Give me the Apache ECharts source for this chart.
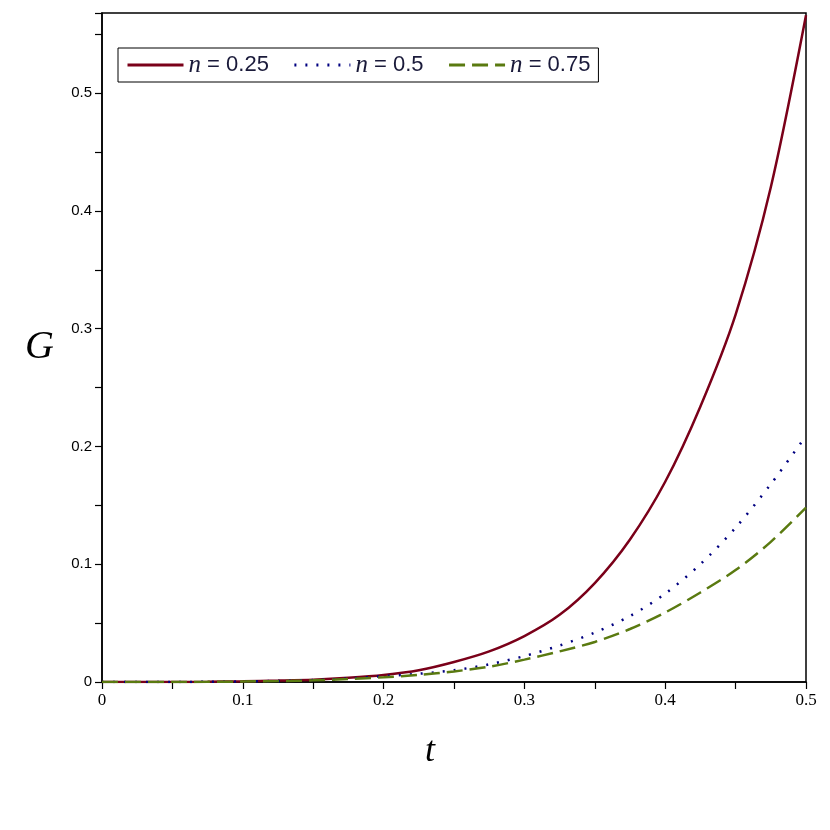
<!DOCTYPE html>
<html><head><meta charset="utf-8">
<script src="https://cdn.jsdelivr.net/npm/echarts@6/dist/echarts.min.js"></script>
<style>html,body{margin:0;padding:0;background:#fff}#c{width:830px;height:830px}</style>
</head><body><div id="c"></div>
<script>
const tValues = [0, 0.025, 0.05, 0.075, 0.1, 0.125, 0.15, 0.175, 0.2, 0.225, 0.25, 0.275, 0.3, 0.325, 0.35, 0.375, 0.4, 0.425, 0.45, 0.475, 0.5];
const gN025 = [0, 0.00001, 0.00005, 0.0002, 0.0006, 0.0012, 0.002, 0.0036, 0.006, 0.010, 0.017, 0.026, 0.039, 0.057, 0.084, 0.121, 0.170, 0.234, 0.312, 0.42, 0.566];
const gN05  = [0, 0.00001, 0.00004, 0.00015, 0.0004, 0.0009, 0.0016, 0.003, 0.005, 0.007, 0.010, 0.015, 0.022, 0.031, 0.042, 0.056, 0.075, 0.100, 0.131, 0.168, 0.209];
const gN075 = [0, 0.00001, 0.00004, 0.00014, 0.0004, 0.0008, 0.0014, 0.0026, 0.004, 0.006, 0.009, 0.013, 0.019, 0.026, 0.034, 0.045, 0.059, 0.076, 0.095, 0.119, 0.148];
const seriesNames = ['n = 0.25', 'n = 0.5', 'n = 0.75'];
const seriesColors = ['#7A0019', '#000080', '#5A7A10'];

const serif = 'Liberation Serif';
const sans = 'Liberation Sans';
function pairs(ys){ return tValues.map((t,i)=>[t, ys[i]]); }
const chart = echarts.init(document.getElementById('c'), null, {renderer:'canvas'});
const lineTypes = ['solid', [2, 9], [16, 7]];
const allData = [gN025, gN05, gN075];
chart.setOption({
  animation:false,
  backgroundColor:'#fff',
  grid:{left:102, right:24, top:13, bottom:148, show:true, borderColor:'#000', borderWidth:1.5, backgroundColor:'transparent'},
  legend:{
    left:118, top:48, orient:'horizontal',
    borderColor:'#000', borderWidth:1, padding:[4,8,4,8],
    itemWidth:56, itemHeight:4, itemGap:24,
    itemStyle:{opacity:0, borderWidth:0},
    lineStyle:{width:3},
    data: seriesNames,
    formatter: n => '{i|n} = ' + n.split('= ')[1],
    textStyle:{fontFamily:sans, fontSize:22, color:'#1a1a3a', lineHeight:26,
      rich:{i:{fontFamily:serif, fontStyle:'italic', fontSize:25, color:'#1a1a3a', lineHeight:26}}}
  },
  xAxis:{
    type:'value', min:0, max:0.5, interval:0.1,
    name:'t', nameLocation:'middle', nameGap:52,
    nameTextStyle:{fontFamily:serif, fontStyle:'italic', fontSize:36, color:'#000', padding:[0,48,0,0]},
    axisLine:{show:true, onZero:false, lineStyle:{color:'#000', width:1.5}},
    axisTick:{show:true, inside:false, length:7, lineStyle:{color:'#000', width:1.2}},
    minorTick:{show:true, splitNumber:2, length:7, lineStyle:{color:'#000', width:1.2}},
    splitLine:{show:false},
    axisLabel:{fontFamily:serif, fontSize:17, color:'#000', margin:10, formatter: v => String(+v.toFixed(2))}
  },
  yAxis:{
    type:'value', min:0, max:0.568, interval:0.1,
    name:'G', nameLocation:'middle', nameGap:48, nameRotate:0,
    nameTextStyle:{fontFamily:serif, fontStyle:'italic', fontSize:40, color:'#000'},
    axisLine:{show:true, onZero:false, lineStyle:{color:'#000', width:1.5}},
    axisTick:{show:true, inside:false, length:7, lineStyle:{color:'#000', width:1.2}},
    minorTick:{show:true, splitNumber:2, length:7, lineStyle:{color:'#000', width:1.2}},
    splitLine:{show:false},
    axisLabel:{fontFamily:sans, fontSize:15, color:'#000', margin:10, showMaxLabel:false,
      formatter: v => String(+v.toFixed(2))}
  },
  series: seriesNames.map((n,i)=>({
    name:n, type:'line', data:pairs(allData[i]), smooth:0.3, showSymbol:false, symbol:'none',
    clip:true,
    lineStyle:{color:seriesColors[i], width:2.5, type:lineTypes[i]},
    itemStyle:{color:seriesColors[i]}
  }))
});
</script></body></html>
